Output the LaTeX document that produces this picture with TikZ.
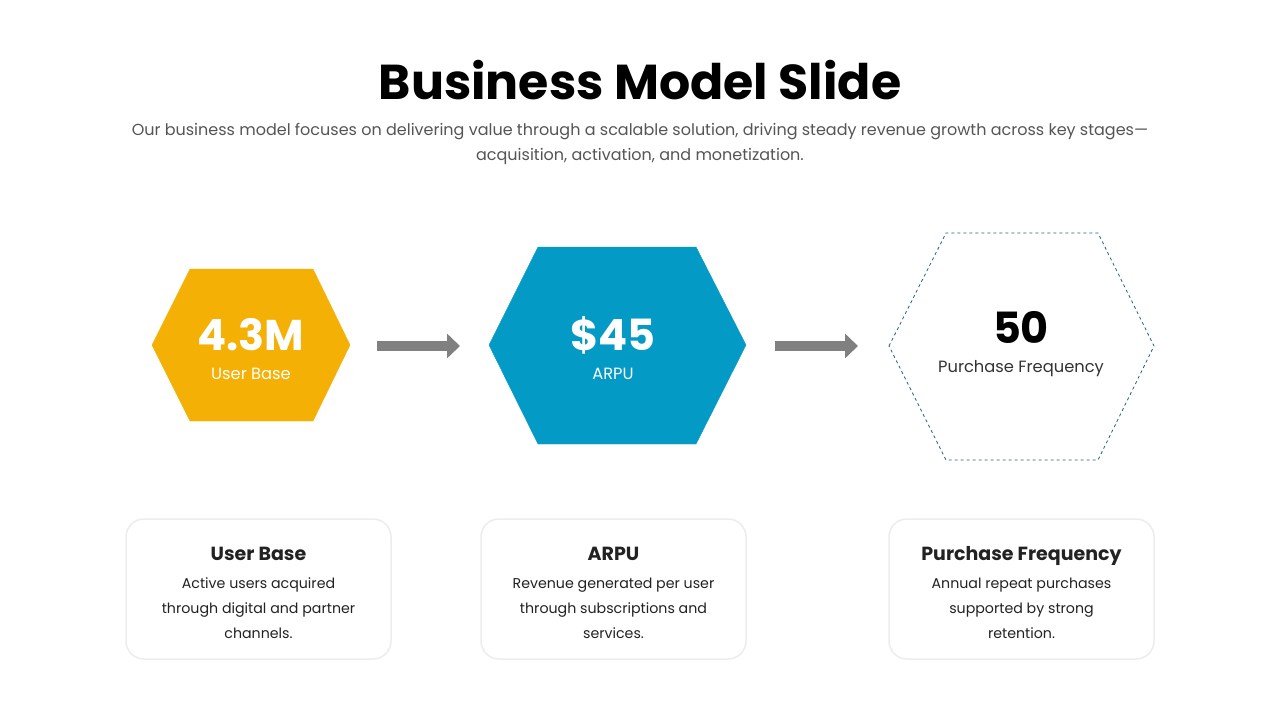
\documentclass[tikz,border=0pt]{standalone}
\usepackage{fontspec}
\setmainfont{Poppins}
\usetikzlibrary{arrows.meta,positioning}
\definecolor{hexyellow}{HTML}{F4B005}
\definecolor{hexblue}{HTML}{039AC6}
\definecolor{hexline}{HTML}{2A5F82}
\definecolor{arrowgray}{HTML}{808080}
\definecolor{subgray}{HTML}{555555}
\definecolor{cardtext}{HTML}{222222}
\tikzset{
  card/.style={draw=black!7, line width=1.5pt, fill=white, rounded corners=18pt,
    minimum width=265pt, minimum height=140pt},
  cardtitle/.style={font=\fontsize{19}{22}\selectfont\bfseries, text=cardtext, anchor=base},
  cardbody/.style={font=\fontsize{14.2}{25}\selectfont, text=cardtext, align=center},
  bignum/.style={font=\fontsize{43}{46}\selectfont\bfseries},
  hexlabel/.style={font=\fontsize{16.3}{18}\selectfont, anchor=base},
  flowarrow/.style={arrowgray, line width=10pt, -{Triangle[length=13pt,width=24pt]}}
}
\begin{document}
\begin{tikzpicture}[x=1pt,y=-1pt]
    \useasboundingbox (0,0) rectangle (1280,720);
    \fill[white] (0,0) rectangle (1280,720);

    % heading
    \node[font=\fontsize{49}{52}\selectfont\bfseries] (title) at (640,80) {Business Model Slide};
    \node[font=\fontsize{16}{25}\selectfont, text=subgray, align=center] (subtitle) at (640,144)
      {Our business model focuses on delivering value through a scalable solution, driving steady revenue growth across key stages---\\
       acquisition, activation, and monetization.};

    % hexagons
    \filldraw[hexyellow] (152,345) -- (190,269) -- (313,269) -- (350,345) -- (313,421) -- (190,421) -- cycle;
    \filldraw[hexblue] (489,345) -- (538,247) -- (696,247) -- (746,345) -- (696,444) -- (538,444) -- cycle;
    \draw[hexline, dashed, line width=0.8pt] (889,346) -- (946,233) -- (1098,233) -- (1154,346) -- (1098,460) -- (946,460) -- cycle;

    \node[bignum, text=white] (ubval) at (251,335) {4.3M};
    \node[hexlabel, text=white] (ublbl) at (251,379) {User Base};
    \node[bignum, text=white] (arpuval) at (613,335) {\$45};
    \node[hexlabel, text=white] (arpulbl) at (613,379) {ARPU};
    \node[bignum, text=black] (pfval) at (1021,327) {50};
    \node[hexlabel, text=black!80] (pflbl) at (1021,372) {Purchase Frequency};

    % arrows
    \coordinate (a1s) at (377,346);
    \coordinate (a1e) at (460,346);
    \coordinate (a2s) at (775,346);
    \coordinate (a2e) at (858,346);
    \draw[flowarrow] (a1s) -- (a1e);
    \draw[flowarrow] (a2s) -- (a2e);

    % cards
    \node[card] (ubcard) at (258.5,589) {};
    \node[cardtitle] (ubtitle) at (258.5,560) {User Base};
    \node[cardbody] (ubtext) at (258.5,608) {Active users acquired\\through digital and partner\\channels.};

    \node[card] (arpucard) at (613.5,589) {};
    \node[cardtitle] (arputitle) at (613.5,560) {ARPU};
    \node[cardbody] (arputext) at (613.5,608) {Revenue generated per user\\through subscriptions and\\services.};

    \node[card] (pfcard) at (1021.5,589) {};
    \node[cardtitle] (pftitle) at (1021.5,560) {Purchase Frequency};
    \node[cardbody] (pftext) at (1021.5,608) {Annual repeat purchases\\supported by strong\\retention.};
\end{tikzpicture}
\end{document}
